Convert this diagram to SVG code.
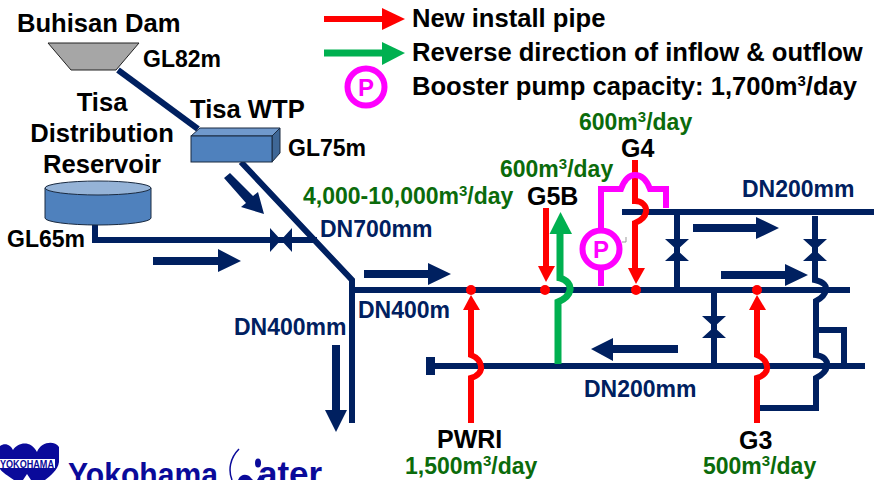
<svg xmlns="http://www.w3.org/2000/svg" width="874" height="480" viewBox="0 0 874 480">
<style>
text{font-family:"Liberation Sans",Arial,sans-serif;font-weight:bold}
.k{font-size:25px;fill:#000}
.gl{font-size:23px;fill:#000}
.l{font-size:25.600px;fill:#000}
.b{font-size:23px;fill:#002060}
.g{font-size:23px;fill:#0b6b0b}
.sup{font-size:15px}
.p{fill:none;stroke:#002060;stroke-width:6}
.r{fill:none;stroke:#f00;stroke-width:6}
.gr{fill:none;stroke:#00b050;stroke-width:7}
.m{fill:none;stroke:#f0f;stroke-width:6}
.nf{fill:#002060}
.rf{fill:#f00}
.gf{fill:#00b050}
.pt{font-size:24px;fill:#f0f;text-anchor:middle}
.logo{fill:#0a0a9a}
</style>
<g id="connectors">
<path class="p" d="M118 70L198 129"/>
<path class="p" d="M241 162L352 280V423"/>
<path class="p" d="M95 225V240H317"/>
<path class="nf" d="M270 228L281 240L270 252ZM292 228L281 240L292 252Z"/>
<path class="p" d="M353 290H850"/>
<path class="p" d="M622 212H874"/>
<path class="p" d="M430 366H865"/>
<rect class="nf" x="426" y="357" width="9" height="18"/>
<path class="p" d="M677 212V290"/>
<path class="nf" d="M665 239H689L677 250L689 261H665L677 250Z"/>
<path class="p" d="M714 290V366"/>
<path class="nf" d="M702 316H726L714 327L726 338H702L714 327Z"/>
<path class="p" d="M815 216V280C824 282 827 286 826 290C825 295 822 298 816 301V355C824 356 828 361 827 366C826 372 822 375 816 378V408H760"/>
<path class="nf" d="M803 239H827L815 250L827 261H803L815 250Z"/>
<path class="p" d="M817 330H844V366"/>
<path class="nf" d="M224 178L230 173L253 196L258 192L264 214L241 207L246 203Z"/>
<path class="nf" d="M153 257H218V249L241 261L218 272V265H153Z"/>
<path class="nf" d="M364 270H428V263L451 274L428 285V278H364Z"/>
<path class="nf" d="M332 345H340V410H347L336 432L325 410H332Z"/>
<path class="nf" d="M693 224H756V217L779 228L756 239V232H693Z"/>
<path class="nf" d="M721 271H785V264L808 275L785 286V279H721Z"/>
<path class="nf" d="M678 345H613V338L591 349L613 361V353H678Z"/>
<path class="r" d="M471 423V378C478 376 482 371 481 366C480 360 476 357 471 355V305"/>
<path class="rf" d="M463 310L471 295L480 310Z"/>
<circle class="rf" cx="471" cy="290" r="5"/>
<path class="r" d="M757 423V378C764 376 768 371 767 366C766 360 762 357 757 355V305"/>
<path class="rf" d="M749 310L757 295L766 310Z"/>
<circle class="rf" cx="757" cy="290" r="5"/>
<path class="r" d="M546 208V268"/>
<path class="rf" d="M538 266H555L546 282Z"/>
<circle class="rf" cx="545" cy="290" r="5"/>
<path class="r" d="M635 160V201C642 201 647 206 646 212C645 218 640 221 635 223V269"/>
<path class="rf" d="M628 268H645L636 284Z"/>
<circle class="rf" cx="636" cy="290" r="5"/>
<path class="gr" d="M560 232V278C567 280 571 285 570 290C569 296 565 299 558 302V364"/>
<path class="gf" d="M549.500 234L560.500 212L572 234Z"/>
<path class="m" d="M601 229V189H621C625 178 630 175 635 175C640 175 646 178 650 189H666V208"/>
<path class="m" d="M601 270V286"/>
<path d="M622 242H626V237" fill="none" stroke="#999" stroke-width="1"/>
</g>
<g id="legend-new"><path class="r" d="M324 19H384"/><path class="rf" d="M382 8L405 19L382 30Z"/></g>
<g id="legend-reverse"><path class="gr" d="M324 53H384"/><path class="gf" d="M382 42L405 53L382 65Z"/></g>
<g id="legend-pump"><circle class="m" cx="366" cy="87" r="18.500"/><text class="pt" x="366" y="96">P</text></g>
<g id="pump"><circle class="m" cx="601" cy="249" r="18.500"/><text class="pt" x="601" y="258">P</text></g>
<g id="dam"><path d="M48 43H139L116 70H71Z" fill="#a6a6a6" stroke="#222" stroke-width="1"/><text class="l" x="17" y="32">Buhisan Dam</text><text class="gl" x="143" y="67">GL82m</text></g>
<g id="wtp">
<path d="M191 136L200 128H280L272 136Z" fill="#7099cc" stroke="#1a2a40"/>
<path d="M272 136L280 128V153L272 162Z" fill="#3f6796" stroke="#1a2a40"/>
<rect x="191" y="136" width="81" height="26" fill="#4f81bd" stroke="#1a2a40"/>
<text class="l" x="190" y="118">Tisa WTP</text><text class="gl" x="288" y="156">GL75m</text></g>
<g id="reservoir">
<path d="M45 188V218A53 7 0 0 0 151 218V188Z" fill="#4f81bd" stroke="#1a2a40"/>
<ellipse cx="98" cy="188" rx="53" ry="7" fill="#95b3d7" stroke="#1a2a40"/>
<text class="l" x="102" y="111" text-anchor="middle">Tisa</text>
<text class="l" x="102" y="142" text-anchor="middle">Distribution</text>
<text class="l" x="102" y="173" text-anchor="middle">Reservoir</text>
<text class="gl" x="7" y="247">GL65m</text></g>
<g id="labels">
<text class="l" x="412" y="27">New install pipe</text>
<text class="l" x="412" y="61">Reverse direction of inflow &amp; outflow</text>
<text class="l" x="412" y="95">Booster pump capacity: 1,700m<tspan class="sup" dy="-9">3</tspan><tspan dy="9">/day</tspan></text>
<text class="g" x="303" y="204">4,000-10,000m<tspan class="sup" dy="-8">3</tspan><tspan dy="8">/day</tspan></text>
<text class="g" x="579" y="130">600m<tspan class="sup" dy="-8">3</tspan><tspan dy="8">/day</tspan></text>
<text class="g" x="500" y="177">600m<tspan class="sup" dy="-8">3</tspan><tspan dy="8">/day</tspan></text>
<text class="g" x="405" y="474">1,500m<tspan class="sup" dy="-8">3</tspan><tspan dy="8">/day</tspan></text>
<text class="g" x="703" y="474">500m<tspan class="sup" dy="-8">3</tspan><tspan dy="8">/day</tspan></text>
<text class="k" x="621" y="157">G4</text>
<text class="k" x="527" y="205">G5B</text>
<text class="k" x="437" y="448">PWRI</text>
<text class="k" x="739" y="449">G3</text>
<text class="b" x="742" y="197">DN200mm</text>
<text class="b" x="320" y="237">DN700mm</text>
<text class="b" x="358" y="318">DN400m</text>
<text class="b" x="234" y="335">DN400mm</text>
<text class="b" x="584" y="397">DN200mm</text>
</g>
<g id="logo">
<path class="logo" d="M0 446C5 442 11 445 13 450C18 442 31 440 37 452C41 442 54 440 59 447V462C58 470 50 476 45 480H31L27 474L23 480H14C8 476 2 472 0 469Z"/>
<rect x="0" y="459" width="55" height="9" fill="#fff"/>
<text x="0" y="467.500" font-size="10.500" class="logo" textLength="54" lengthAdjust="spacingAndGlyphs">YOKOHAMA</text>
<text x="68" y="486" font-size="32.500" class="logo" textLength="150" lengthAdjust="spacingAndGlyphs">Yokohama</text>
<path d="M239 449C230 458 228 470 232 480" fill="none" stroke="#0a0a9a" stroke-width="1.500"/>
<ellipse class="logo" cx="258" cy="463" rx="3" ry="4.500"/>
<path class="logo" d="M238 480C241 473 248 474 251 478L253 480ZM257 480L260 475L263 477L262 480Z"/>
<text x="258" y="486" font-size="35" class="logo">ater</text>
</g>
</svg>
